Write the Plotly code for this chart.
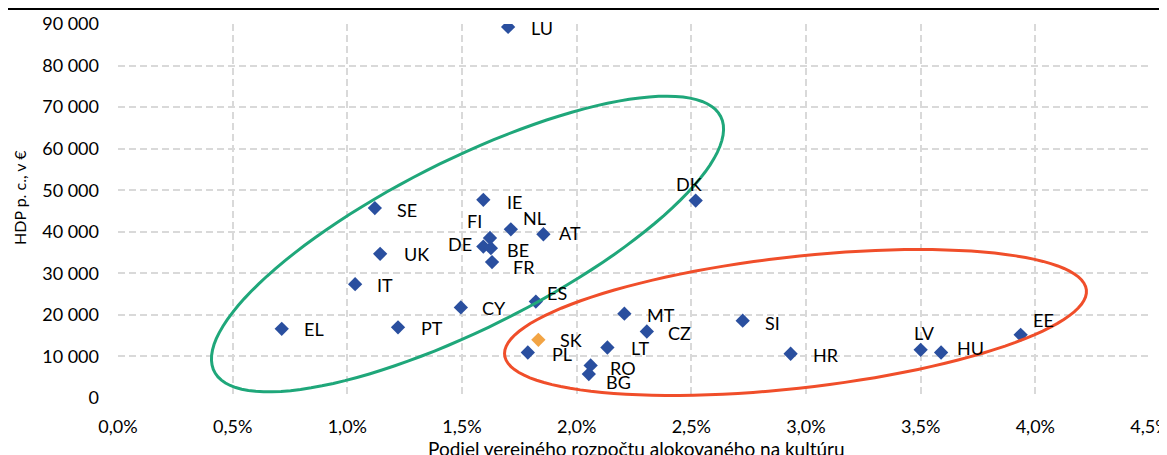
import numpy as np
import plotly.graph_objects as go

# ---- data ----
countries = ["LU", "SE", "UK", "IT", "IE", "FI", "DE", "BE", "FR", "NL", "AT", "DK",
             "PT", "CY", "ES", "SK", "PL", "MT", "CZ", "LT", "RO", "BG", "SI", "EL",
             "HR", "LV", "HU", "EE"]
culture_share = [0.01701, 0.01120, 0.01143, 0.01034, 0.01593, 0.01622, 0.01593, 0.01626,
                 0.01631, 0.01713, 0.01855, 0.02519, 0.01221, 0.01495, 0.01822, 0.01833,
                 0.01787, 0.02208, 0.02306, 0.02134, 0.02061, 0.02053, 0.02724, 0.00714,
                 0.02933, 0.03500, 0.03589, 0.03936]
gdp_pc = [89300, 45700, 34700, 27400, 47700, 38500, 36450, 36050, 32700, 40600, 39400,
          47500, 17000, 21800, 23200, 14000, 10950, 20300, 16000, 12150, 7850, 5750,
          18600, 16650, 10650, 11600, 10950, 15200]
highlight = "SK"

x_ticks = [0, 0.005, 0.01, 0.015, 0.02, 0.025, 0.03, 0.035, 0.04, 0.045]
y_ticks = [0, 10000, 20000, 30000, 40000, 50000, 60000, 70000, 80000, 90000]

# label offsets in screen pixels (dx right, dy down) relative to the marker
label_shift = {
    "LU": (34, 1), "SE": (32, 1.5), "UK": (36, 0), "IT": (30, 1), "IE": (31, 2),
    "FI": (-15, -17), "DE": (-23, -3), "BE": (27, 2), "FR": (32, 4.5), "NL": (24, -11),
    "AT": (27, -1), "DK": (-7, -17), "PT": (34, 1), "CY": (33, 1), "ES": (21, -9),
    "SK": (33, 0), "PL": (34, 1.5), "MT": (37, 1), "CZ": (33, 1.5), "LT": (33, 0.5),
    "RO": (32, 2.5), "BG": (30, 7.5), "SI": (30, 2.5), "EL": (32, 0), "HR": (35, 1),
    "LV": (4, -17), "HU": (29, -5), "EE": (23, -15),
}

# ---- layout geometry (page pixels; the page body has an 8px margin) ----
OFF = 8
PAGE_W, PAGE_H = 1167, 455
PLOT_L, PLOT_T, PLOT_R, PLOT_B = 118, 24, 1150, 398
W, H = PAGE_W - OFF, PAGE_H - OFF
ML, MT_ = PLOT_L - OFF, PLOT_T - OFF
MR = PAGE_W - PLOT_R
MB = PAGE_H - PLOT_B
PW, PH = PLOT_R - PLOT_L, PLOT_B - PLOT_T
X_RANGE = (0, 0.045)
Y_RANGE = (0, 90000)
FONT = "Lato"

def px_to_data(px, py):
    x = X_RANGE[0] + (px - PLOT_L) / PW * (X_RANGE[1] - X_RANGE[0])
    y = Y_RANGE[0] + (PLOT_B - py) / PH * (Y_RANGE[1] - Y_RANGE[0])
    return x, y

def px_to_paper(px, py):
    return (px - PLOT_L) / PW, (PLOT_B - py) / PH

def ellipse_path(cx_px, cy_px, a, b, angle_deg, n=120):
    t = np.linspace(0, 2 * np.pi, n)
    th = np.deg2rad(angle_deg)
    ex = a * np.cos(t)
    ey = b * np.sin(t)
    px = cx_px + ex * np.cos(th) - ey * np.sin(th)
    py = cy_px - (ex * np.sin(th) + ey * np.cos(th))
    pts = [px_to_data(u, v) for u, v in zip(px, py)]
    return "M " + " L ".join(f"{x:.6f},{y:.2f}" for x, y in pts) + " Z"

colors = ["#F2A444" if c == highlight else "#2A4F9F" for c in countries]

fig = go.Figure()
fig.add_trace(go.Scatter(
    x=culture_share, y=gdp_pc, mode="markers",
    marker=dict(symbol="diamond", size=11, color=colors, line=dict(width=0)),
    hoverinfo="text", text=countries, showlegend=False,
))

annotations = []
for c, xv, yv in zip(countries, culture_share, gdp_pc):
    dx, dy = label_shift[c]
    annotations.append(dict(
        x=xv, y=yv, xref="x", yref="y", text=c, showarrow=False,
        xanchor="center", yanchor="middle", xshift=dx, yshift=-dy,
        font=dict(family=FONT, size=18, color="#000000"),
    ))

# axis titles
tx, ty = px_to_paper(636, 448)
annotations.append(dict(
    x=tx, y=ty, xref="paper", yref="paper",
    text="Podiel verejného rozpočtu alokovaného na kultúru", showarrow=False,
    xanchor="center", yanchor="middle", font=dict(family=FONT, size=19, color="#000000"),
))
yx, yy = px_to_paper(19, 198)
annotations.append(dict(
    x=yx, y=yy, xref="paper", yref="paper",
    text="HDP p. c., v €", showarrow=False, textangle=-90,
    xanchor="center", yanchor="middle", font=dict(family=FONT, size=16, color="#000000"),
))

lx0, ly = px_to_paper(OFF, 9)
lx1, _ = px_to_paper(PAGE_W, 9)
shapes = [
    dict(type="path", xref="x", yref="y", path=ellipse_path(467.5, 244, 283.5, 84, 26.7),
         line=dict(color="#1FA77A", width=3), fillcolor="rgba(0,0,0,0)", layer="above"),
    dict(type="path", xref="x", yref="y", path=ellipse_path(795.5, 322.5, 292.7, 65.7, 6.4),
         line=dict(color="#F04E2A", width=3), fillcolor="rgba(0,0,0,0)", layer="above"),
    dict(type="line", xref="paper", yref="paper", x0=lx0, x1=lx1, y0=ly, y1=ly,
         line=dict(color="#000000", width=2)),
]

fig.update_layout(
    width=W, height=H, margin=dict(l=ML, r=MR, t=MT_, b=MB, autoexpand=False),
    paper_bgcolor="white", plot_bgcolor="white",
    separators=", ",
    font=dict(family=FONT, size=18, color="#000000"),
    annotations=annotations, shapes=shapes,
    xaxis=dict(range=list(X_RANGE), tickvals=x_ticks, tickformat=".1%",
               showgrid=True, gridcolor="#D9D9D9", gridwidth=1.5, griddash="7px,4px",
               zeroline=False, showline=False, ticks="", ticklabelstandoff=16,
               ticklabeloverflow="allow",
               tickfont=dict(family=FONT, size=18, color="#000000")),
    yaxis=dict(range=list(Y_RANGE), tickvals=y_ticks, tickformat=",d",
               showgrid=True, gridcolor="#D9D9D9", gridwidth=1.5, griddash="7px,4px",
               zeroline=False, showline=False, ticks="", ticklabelstandoff=18,
               tickfont=dict(family=FONT, size=18, color="#000000")),
)

fig.write_html("out.html")
